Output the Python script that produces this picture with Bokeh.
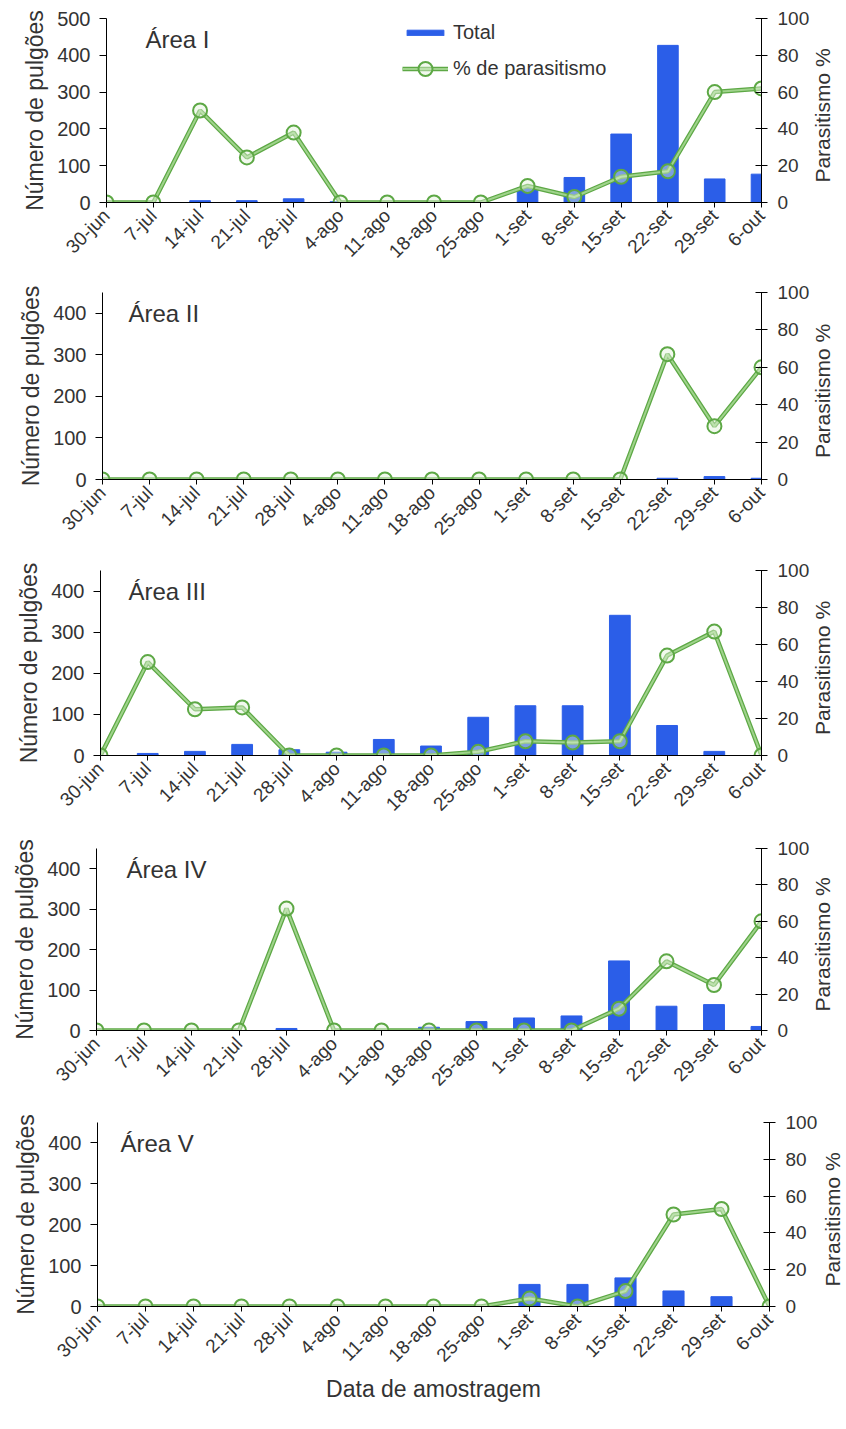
import math
from bokeh.plotting import figure
from bokeh.models import Range1d, LinearAxis, FixedTicker, Label, Legend, LegendItem
from bokeh.layouts import column, row
from bokeh.embed import file_html
from bokeh.resources import INLINE

dates = ["30-jun", "7-jul", "14-jul", "21-jul", "28-jul", "4-ago", "11-ago", "18-ago",
         "25-ago", "1-set", "8-set", "15-set", "22-set", "29-set", "6-out"]
area_names = ["Área I", "Área II", "Área III", "Área IV", "Área V"]

total_1 = [0, 0, 5, 5, 10, 2, 0, 0, 0, 40, 68, 186, 427, 64, 77]
paras_1 = [0, 0, 50, 24.5, 38, 0, 0, 0, 0, 9, 3, 14, 17, 60, 62]
total_2 = [0, 0, 0, 0, 0, 0, 0, 0, 0, 0, 0, 0, 3, 7, 3]
paras_2 = [0, 0, 0, 0, 0, 0, 0, 0, 0, 0, 0, 0, 67, 28.5, 60]
total_3 = [0, 5, 10, 27, 14, 8, 39, 23, 93, 121, 121, 341, 73, 10, 0]
paras_3 = [0, 50.5, 25, 26, 0, 0, 0, 0, 2, 7.7, 7, 7.7, 54, 67, 0]
total_4 = [0, 0, 0, 0, 5, 0, 0, 8, 22, 31, 36, 172, 60, 64, 10]
paras_4 = [0, 0, 0, 0, 67, 0, 0, 0, 0, 0, 0, 12, 38, 25, 60]
total_5 = [0, 0, 0, 0, 0, 0, 0, 0, 0, 54, 54, 70, 38, 24, 0]
paras_5 = [0, 0, 0, 0, 0, 0, 0, 0, 0, 4.3, 0, 8.4, 50, 53, 0]

totals = [total_1, total_2, total_3, total_4, total_5]
paras = [paras_1, paras_2, paras_3, paras_4, paras_5]
left_max = [500, 450, 450, 450, 450]
left_ticks = [[0, 100, 200, 300, 400, 500]] + [[0, 100, 200, 300, 400]] * 4
pct_ticks = [0, 20, 40, 60, 80, 100]

# layout (page pixels; the page itself has no margin)
frame_left = [106, 102, 100, 96, 97]
frame_right = [762, 762, 762, 762, 771]
fig_heights = [282, 278, 278, 274, 317]
border_top = [18, 10, 10, 10, 10]
frame_heights = [184, 187, 185, 182, 184]
main_widths = [812, 812, 812, 812, 820]
side_label_x = [10, 10, 10, 10, 12]
title_x = [39, 26, 28, 30, 23]
PAGE_W = 846

FONT = "Liberation Sans"
TXT = "#333333"
BAR = "#2b5ee8"
GREEN = "#5da845"
GREEN_IN = "#9fd38b"

x = list(range(len(dates)))
rows = []
for k in range(5):
    last = (k == 4)
    h = fig_heights[k]
    fh = frame_heights[k]
    bt = border_top[k]
    bb = h - bt - fh
    W = main_widths[k]
    bl = frame_left[k]
    fw = frame_right[k] - frame_left[k]
    br = W - bl - fw
    p = figure(width=W, height=h, output_backend="svg", toolbar_location=None,
               x_range=Range1d(0, 14), y_range=Range1d(0, left_max[k]),
               min_border_left=bl, min_border_right=br, min_border_top=bt,
               min_border_bottom=bb)
    p.extra_y_ranges = {"pct": Range1d(0, 100)}
    p.outline_line_color = None
    p.xgrid.visible = False
    p.ygrid.visible = False

    bars = p.vbar(x=x, top=totals[k], width=0.44, color=BAR)
    l1 = p.line(x, paras[k], y_range_name="pct", line_color=GREEN, line_width=4.5)
    l2 = p.line(x, paras[k], y_range_name="pct", line_color=GREEN_IN, line_width=2)
    cc = p.scatter(x, paras[k], y_range_name="pct", marker="circle", size=14,
                   line_color=GREEN, line_width=2, fill_color="#e2f2da", fill_alpha=0.45)

    xa = p.xaxis[0]
    xa.ticker = FixedTicker(ticks=x)
    xa.major_label_overrides = {i: d for i, d in zip(x, dates)}
    xa.major_label_orientation = math.pi / 4
    xa.major_label_text_font = FONT
    xa.major_label_text_font_size = "19px"
    xa.major_label_text_color = TXT
    xa.major_tick_in = 0
    xa.major_tick_out = 5
    xa.minor_tick_line_color = None
    xa.axis_line_color = "black"
    xa.major_label_standoff = 5
    if last:
        xa.axis_label = "Data de amostragem"
        xa.axis_label_text_font = FONT
        xa.axis_label_text_font_size = "23px"
        xa.axis_label_text_font_style = "normal"
        xa.axis_label_text_color = TXT
        xa.axis_label_standoff = 0

    ya = p.yaxis[0]
    ya.ticker = FixedTicker(ticks=left_ticks[k])
    ya.axis_label = "Número de pulgões"
    ya.axis_label_text_font = FONT
    ya.axis_label_text_font_size = "23px"
    ya.axis_label_text_font_style = "normal"
    ya.axis_label_text_color = TXT
    ya.axis_label_standoff = 6
    ya.major_label_text_font = FONT
    ya.major_label_text_font_size = "20px"
    ya.major_label_text_color = TXT
    ya.major_label_standoff = 9
    ya.major_tick_in = 0
    ya.major_tick_out = 7
    ya.minor_tick_line_color = None

    ra = LinearAxis(y_range_name="pct", ticker=FixedTicker(ticks=pct_ticks))
    ra.major_label_text_font = FONT
    ra.major_label_text_font_size = "19px"
    ra.major_label_text_color = TXT
    ra.major_label_standoff = 10
    ra.major_tick_in = 6
    ra.major_tick_out = 6
    ra.minor_tick_line_color = None
    p.add_layout(ra, "right")

    p.add_layout(Label(x=title_x[k], y=fh - 21, x_units="screen", y_units="screen",
                       text=area_names[k], text_font=FONT, text_font_size="24px",
                       text_color=TXT, text_baseline="middle"))

    if k == 0:
        leg1 = Legend(items=[LegendItem(label="Total", renderers=[bars])],
                      location=(296, 158))
        leg2 = Legend(items=[LegendItem(label="% de parasitismo", renderers=[l1, l2, cc])],
                      location=(296, 116))
        for lg, gh in ((leg1, 7), (leg2, 35)):
            lg.background_fill_alpha = 0
            lg.border_line_color = None
            lg.padding = 0
            lg.margin = 0
            lg.spacing = 0
            lg.glyph_width = 46
            lg.glyph_height = gh
            lg.label_height = gh
            lg.label_standoff = 5
            lg.label_text_font = FONT
            lg.label_text_font_size = "20px"
            lg.label_text_color = TXT
            lg.label_text_baseline = "middle"
            p.add_layout(lg)

    # narrow side panel holding the right-hand axis title, reading bottom to top
    sw = PAGE_W - W
    s = figure(width=sw, height=h, output_backend="svg", toolbar_location=None,
               x_range=Range1d(0, 1), y_range=Range1d(0, 1),
               x_axis_type=None, y_axis_type=None,
               min_border_left=0, min_border_right=0, min_border_top=bt,
               min_border_bottom=bb)
    s.outline_line_color = None
    s.grid.visible = False
    s.add_layout(Label(x=side_label_x[k], y=fh / 2 - 5, x_units="screen",
                       y_units="screen", text="Parasitismo %", angle=math.pi / 2,
                       text_font=FONT, text_font_size="21px", text_color=TXT,
                       text_align="center", text_baseline="middle"))
    rows.append(row(p, s, spacing=0))

layout = column(*rows, spacing=0)
open("out.html", "w").write(file_html(layout, INLINE))
